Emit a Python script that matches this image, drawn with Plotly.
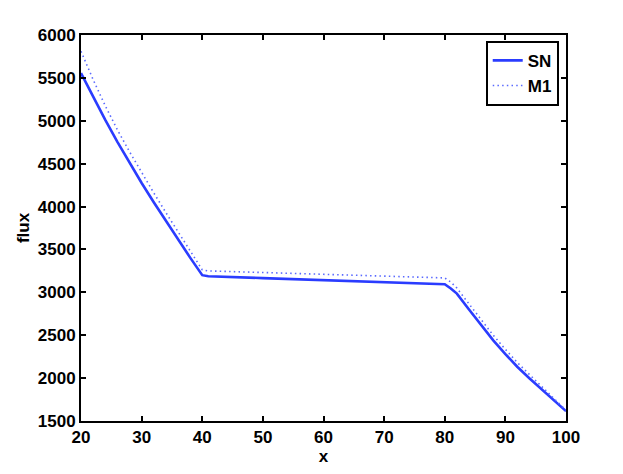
import plotly.graph_objects as go

x_sn = [20, 22, 24, 26, 28, 30, 32, 34, 36, 38, 40, 41, 50, 60, 70, 80, 81, 82, 84, 86, 88, 90, 92, 94, 96, 98, 100]
y_sn = [5556, 5280, 5010, 4755, 4510, 4275, 4050, 3830, 3615, 3405, 3200, 3188, 3166, 3142, 3118, 3095, 3045, 2985, 2800, 2615, 2440, 2280, 2130, 1995, 1865, 1740, 1615]

x_m1 = [20, 22, 24, 26, 28, 30, 32, 34, 36, 38, 40, 41, 50, 60, 70, 80, 81, 82, 84, 86, 88, 90, 92, 94, 96, 98, 100]
y_m1 = [5810, 5480, 5175, 4895, 4640, 4395, 4160, 3930, 3705, 3480, 3262, 3250, 3232, 3212, 3190, 3168, 3120, 3050, 2865, 2680, 2500, 2335, 2180, 2040, 1905, 1772, 1625]

x_ticks = [20, 30, 40, 50, 60, 70, 80, 90, 100]
y_ticks = [1500, 2000, 2500, 3000, 3500, 4000, 4500, 5000, 5500, 6000]

blue = "#2a3cff"
fnt = dict(family="Liberation Sans, Arial, sans-serif", size=17, color="black", weight="bold")

fig = go.Figure()
fig.add_trace(go.Scatter(x=x_sn, y=y_sn, mode="lines", name="SN",
                         line=dict(color=blue, width=2.6)))
fig.add_trace(go.Scatter(x=x_m1, y=y_m1, mode="lines", name="M1",
                         line=dict(color="#5a6aff", width=1.6, dash="1.5px,3.2px")))

axis_common = dict(showgrid=False, zeroline=False, showline=True, linecolor="black",
                   linewidth=2, mirror="ticks", ticks="inside", ticklen=5, tickwidth=2,
                   tickcolor="black", tickfont=fnt, automargin=False)

fig.update_xaxes(range=[20, 100], tickvals=x_ticks, ticktext=[str(v) for v in x_ticks],
                 title=dict(text="x", font=fnt, standoff=0), **axis_common)
fig.update_yaxes(range=[1500, 6000], tickvals=y_ticks, ticktext=[str(v) for v in y_ticks],
                 title=dict(text="flux", font=fnt, standoff=4), **axis_common)

fig.update_layout(
    width=623, height=474,
    margin=dict(l=73, r=65, t=27, b=61),
    paper_bgcolor="white", plot_bgcolor="white",
    font=fnt,
    legend=dict(x=0.985, y=0.985, xanchor="right", yanchor="top",
                bordercolor="black", borderwidth=2, bgcolor="white",
                font=fnt, tracegroupgap=0, itemwidth=30),
    showlegend=True,
)

fig.write_html("out.html")
